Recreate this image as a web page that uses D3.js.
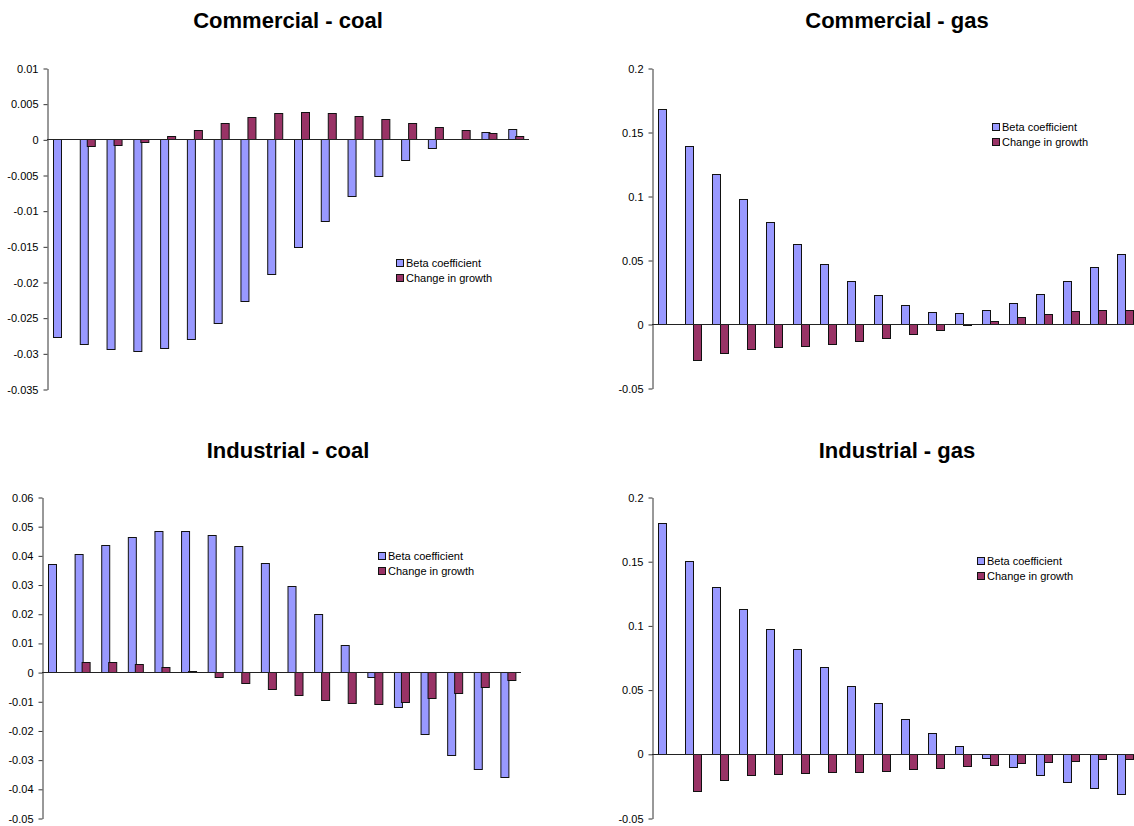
<!DOCTYPE html>
<html>
<head>
<meta charset="utf-8">
<script src="https://cdn.jsdelivr.net/npm/d3@7"></script>
<style>
  html, body { margin: 0; padding: 0; background: #fff; }
  svg { display: block; }
  .title { font-family: "Liberation Sans Narrow", "Arial Narrow", "Liberation Sans", sans-serif; font-weight: bold; font-size: 22px; fill: #000; }
  .tick text, .legend text { font-family: "Liberation Sans", Arial, sans-serif; font-size: 11px; fill: #000; }
</style>
</head>
<body>
<svg id="chart" width="1134" height="826"></svg>
<script>
// 18 periods per panel, no category labels on the x axis
const periods = d3.range(1, 19);
const seriesNames = ["Beta coefficient", "Change in growth"];
const seriesColors = ["#9999FF", "#993366"];

// Commercial - coal
const comCoalBeta = [-0.0277, -0.0287, -0.0294, -0.0297, -0.0293, -0.0280, -0.0257, -0.0226, -0.0189,
  -0.0151, -0.0114, -0.0080, -0.0052, -0.0029, -0.0012, 0.0001, 0.0010, 0.0015];
const comCoalGrowth = [0, -0.0010, -0.00075, -0.00037, 0.00042, 0.0013, 0.00224, 0.00313, 0.00369,
  0.00388, 0.00374, 0.00332, 0.00285, 0.00229, 0.00178, 0.00126, 0.00084, 0.00051];
const comCoalTicks = [0.01, 0.005, 0, -0.005, -0.01, -0.015, -0.02, -0.025, -0.03, -0.035];

// Commercial - gas
const comGasBeta = [0.1679, 0.1394, 0.1174, 0.0979, 0.0798, 0.0627, 0.0472, 0.0334, 0.0225,
  0.0145, 0.0096, 0.0086, 0.0106, 0.0161, 0.0238, 0.0334, 0.0443, 0.0549];
const comGasGrowth = [0, -0.0280, -0.0223, -0.0197, -0.0181, -0.0171, -0.0155, -0.0135, -0.0111,
  -0.0080, -0.0047, -0.0010, 0.0023, 0.0052, 0.0080, 0.0098, 0.0106, 0.0106];
const comGasTicks = [0.2, 0.15, 0.1, 0.05, 0, -0.05];

// Industrial - coal
const indCoalBeta = [0.0370, 0.0404, 0.0437, 0.0464, 0.0483, 0.0485, 0.0469, 0.0432, 0.0374,
  0.0295, 0.0199, 0.0094, -0.0016, -0.0120, -0.0211, -0.0283, -0.0333, -0.0360];
const indCoalGrowth = [0, 0.0034, 0.0033, 0.0029, 0.0017, 0.0003, -0.0016, -0.0037, -0.0058,
  -0.0079, -0.0095, -0.0105, -0.0109, -0.0104, -0.0090, -0.0072, -0.0050, -0.0027];
const indCoalTicks = [0.06, 0.05, 0.04, 0.03, 0.02, 0.01, 0, -0.01, -0.02, -0.03, -0.04, -0.05];

// Industrial - gas
const indGasBeta = [0.1797, 0.1505, 0.1299, 0.1128, 0.0969, 0.0820, 0.0674, 0.0531, 0.0398,
  0.0273, 0.0161, 0.0060, -0.0029, -0.0104, -0.0167, -0.0221, -0.0268, -0.0310];
const indGasGrowth = [0, -0.0292, -0.0206, -0.0169, -0.0156, -0.0148, -0.0143, -0.0141, -0.0133,
  -0.0122, -0.0109, -0.0096, -0.0086, -0.0073, -0.0063, -0.0055, -0.0042, -0.0039];
const indGasTicks = [0.2, 0.15, 0.1, 0.05, 0, -0.05];

const svg = d3.select("#chart");
svg.append("rect").attr("width", 1134).attr("height", 826).attr("fill", "#fff");

const panels = [
  { title: "Commercial - coal", titleX: 288, titleY: 28, beta: comCoalBeta, growth: comCoalGrowth, ticks: comCoalTicks,
    x0: 47, x1: 529, yTop: 68, yBot: 389, legendX: 396, legendY: 263 },
  { title: "Commercial - gas", titleX: 897, titleY: 28, beta: comGasBeta, growth: comGasGrowth, ticks: comGasTicks,
    x0: 652, x1: 1138, yTop: 68, yBot: 388, legendX: 992, legendY: 127 },
  { title: "Industrial - coal", titleX: 288, titleY: 458, beta: indCoalBeta, growth: indCoalGrowth, ticks: indCoalTicks,
    x0: 42, x1: 521, yTop: 497, yBot: 818, legendX: 378, legendY: 556 },
  { title: "Industrial - gas", titleX: 897, titleY: 458, beta: indGasBeta, growth: indGasGrowth, ticks: indGasTicks,
    x0: 652, x1: 1138, yTop: 497, yBot: 818, legendX: 977, legendY: 561 }
];

panels.forEach(p => {
  const g = svg.append("g");

  g.append("text").attr("class", "title")
    .attr("x", p.titleX).attr("y", p.titleY)
    .attr("text-anchor", "middle").text(p.title);

  const y = d3.scaleLinear()
    .domain([d3.min(p.ticks), d3.max(p.ticks)])
    .range([p.yBot, p.yTop]);

  const x = d3.scaleBand().domain(periods).range([p.x0, p.x1]).padding(0);
  // two bars per period, gap of 1.5 bar widths between groups
  const xs = d3.scaleBand().domain(seriesNames).range([0, x.bandwidth()])
    .paddingInner(0).paddingOuter(0.75);

  const rows = periods.map((per, i) => ({ per, values: [p.beta[i], p.growth[i]] }));

  const groups = g.selectAll("g.period").data(rows).join("g")
    .attr("class", "period")
    .attr("transform", d => `translate(${x(d.per)},0)`);

  groups.selectAll("rect")
    .data(d => d.values.map((v, k) => ({ v, k })))
    .join("rect")
    .attr("x", d => Math.round(xs(seriesNames[d.k])) + 0.5)
    .attr("width", Math.round(xs.bandwidth()))
    .attr("y", d => Math.round(y(Math.max(0, d.v))) + 0.5)
    .attr("height", d => Math.abs(Math.round(y(d.v)) - Math.round(y(0))))
    .attr("fill", d => seriesColors[d.k])
    .attr("stroke", "#111")
    .attr("stroke-width", 1);

  // zero line across the plot
  g.append("line")
    .attr("x1", p.x0).attr("x2", p.x1)
    .attr("y1", Math.round(y(0)) + 0.5).attr("y2", Math.round(y(0)) + 0.5)
    .attr("stroke", "#222").attr("stroke-width", 1);

  const axis = d3.axisLeft(y)
    .tickValues(p.ticks)
    .tickFormat(v => String(v))
    .tickSize(4).tickSizeOuter(0).tickPadding(5);

  const ax = g.append("g").attr("transform", `translate(${p.x0 + 0.5},0.5)`).call(axis);
  ax.select(".domain").attr("stroke", "#333");
  ax.selectAll(".tick line").attr("stroke", "#333");
  ax.selectAll(".tick text").attr("fill", "#000");

  const lg = g.append("g").attr("class", "legend")
    .attr("transform", `translate(${p.legendX},${p.legendY})`);
  seriesNames.forEach((name, k) => {
    lg.append("rect")
      .attr("x", 0.5).attr("y", k * 15 - 3.5)
      .attr("width", 7).attr("height", 7)
      .attr("fill", seriesColors[k]).attr("stroke", "#111");
    lg.append("text")
      .attr("x", 10).attr("y", k * 15)
      .attr("dy", "0.35em").text(name);
  });
});
</script>
</body>
</html>
